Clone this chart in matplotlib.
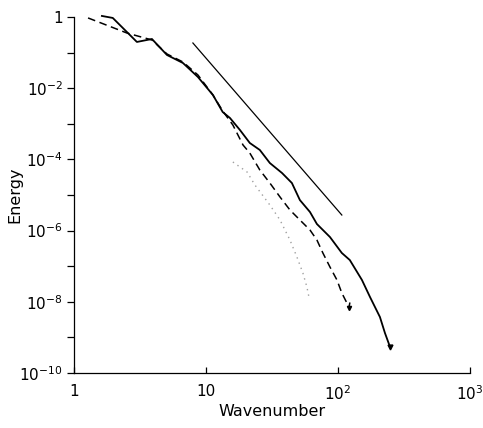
import matplotlib
matplotlib.use("Agg")
import matplotlib.pyplot as plt
from matplotlib.ticker import FixedLocator, FixedFormatter, NullLocator

# --- data (wavenumber, energy) ---
k_solid = [1.63, 1.97, 3.0, 3.9, 5.07, 6.7, 8.7, 11.3, 13.4, 15.2, 18.1, 21.5,
           25.6, 30.5, 37.7, 44.8, 51.5, 61.4, 69.3, 87, 107, 123, 152, 175,
           208, 227, 248]
e_solid = [1.07, 0.94, 0.199, 0.241, 0.0857, 0.051, 0.0206, 6.44e-3, 2.14e-3,
           1.46e-3, 6.7e-4, 2.89e-4, 1.84e-4, 7.9e-5, 4.15e-5, 2.17e-5, 7.2e-6,
           3.33e-6, 1.53e-6, 6.6e-7, 2.35e-7, 1.49e-7, 4.1e-8, 1.36e-8, 3.74e-9,
           1.33e-9, 5.4e-10]

k_dash = [1.28, 2.52, 3.9, 5.07, 6.7, 8.7, 11.3, 13.4, 16.0, 19.1, 21.5, 25.6,
          30.5, 36.4, 43.3, 51.5, 61.4, 69.3, 76.9, 87, 98.3, 107, 117, 121, 125]
e_dash = [0.94, 0.355, 0.226, 0.0914, 0.0544, 0.0235, 6.44e-3, 2.29e-3, 9.25e-4,
          2.54e-4, 1.51e-4, 5.04e-5, 2.17e-5, 8.8e-6, 3.79e-6, 1.99e-6, 1.04e-6,
          5.44e-7, 2.35e-7, 9.5e-8, 4.1e-8, 1.77e-8, 9.2e-9, 6.7e-9, 1.28e-8]

k_dot = [16.0, 20.5, 23.5, 30.5, 36.4, 43.3, 48.9, 54.3, 58.2, 60.3]
e_dot = [8.45e-5, 4.43e-5, 1.91e-5, 5.24e-6, 1.99e-6, 5.44e-7, 1.81e-7, 6.4e-8,
         2.6e-8, 1.36e-8]

k_ref = [7.97, 107]
e_ref = [0.186, 2.74e-6]

x_ticks = [1, 10, 100, 1000]
x_labels = ["1", "10", r"$10^2$", r"$10^3$"]
y_ticks = [1e-10, 1e-9, 1e-8, 1e-7, 1e-6, 1e-5, 1e-4, 1e-3, 1e-2, 1e-1, 1]
y_labels = [r"$10^{-10}$", "", r"$10^{-8}$", "", r"$10^{-6}$", "", r"$10^{-4}$",
            "", r"$10^{-2}$", "", "1"]

plt.rcParams['font.family'] = ['DejaVu Sans']
plt.rcParams['mathtext.fontset'] = 'dejavusans'

fig = plt.figure(figsize=(4.83, 4.28), dpi=100)
ax = fig.add_axes([0.153, 0.1285, 0.820, 0.8318])

ax.plot(k_solid, e_solid, color='black', lw=1.3, clip_on=False)
ax.plot(k_solid[-1:], e_solid[-1:], 'v', color='black', ms=3.5, clip_on=False)
ax.plot(k_dash, e_dash, color='black', lw=1.1, dashes=(5, 3), clip_on=False)
ax.plot(k_dash[-2:-1], e_dash[-2:-1], 'v', color='black', ms=3, clip_on=False)
ax.plot(k_dot, e_dot, color='#a0a0a0', lw=1.0, ls=(0, (1, 3)))
ax.plot(k_ref, e_ref, color='black', lw=0.9)

ax.set_xscale('log')
ax.set_yscale('log')
ax.set_xlim(1, 1000)
ax.set_ylim(1e-10, 1)

ax.xaxis.set_major_locator(FixedLocator(x_ticks))
ax.xaxis.set_major_formatter(FixedFormatter(x_labels))
ax.xaxis.set_minor_locator(NullLocator())
ax.yaxis.set_major_locator(FixedLocator(y_ticks))
ax.yaxis.set_major_formatter(FixedFormatter(y_labels))
ax.yaxis.set_minor_locator(NullLocator())

ax.tick_params(axis='x', direction='in', length=4, width=0.9, labelsize=11, pad=8)
ax.tick_params(axis='y', direction='out', length=5, width=0.9, labelsize=11, pad=3)

for s in ['top', 'right']:
    ax.spines[s].set_visible(False)
for s in ['left', 'bottom']:
    ax.spines[s].set_linewidth(0.9)

ax.set_xlabel("Wavenumber", fontsize=11.5, labelpad=1)
ax.set_ylabel("Energy", fontsize=11.5, labelpad=-2)

fig.savefig("out.png", dpi=100)
